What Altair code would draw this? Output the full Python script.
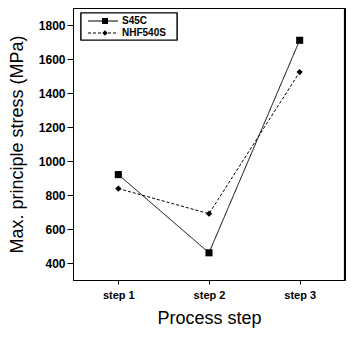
import altair as alt
import pandas as pd

steps = ["step 1", "step 2", "step 3"]
s45c = [920, 460, 1710]
nhf = [838, 690, 1523]
series = ["S45C", "NHF540S"]
y_ticks = [400, 600, 800, 1000, 1200, 1400, 1600, 1800]

rows = []
for s, vals in zip(series, [s45c, nhf]):
    for st, v in zip(steps, vals):
        rows.append({"step": st, "stress": v, "series": s})
df = pd.DataFrame(rows)

W, H = 272, 272
font = "Arial"
x = alt.X("step:N", sort=steps, title="Process step",
          scale=alt.Scale(paddingOuter=0.5),
          axis=alt.Axis(labelAngle=0, labelFont=font, labelFontWeight="bold", labelFontSize=11,
                        labelColor="black", titleFont=font, titleFontSize=18, titleFontWeight="normal",
                        titleColor="black", domainColor="black", tickColor="black", tickSize=4,
                        labelPadding=5, titlePadding=9))
y = alt.Y("stress:Q", title="Max. principle stress (MPa)",
          scale=alt.Scale(domain=[300, 1900], nice=False),
          axis=alt.Axis(values=y_ticks, grid=False, format="d",
                        labelFont=font, labelFontWeight="bold", labelFontSize=12, labelColor="black",
                        titleFont=font, titleFontSize=18, titleFontWeight="normal", titleColor="black",
                        domainColor="black", tickColor="black", tickSize=6, labelPadding=2, titlePadding=12))

color = alt.Color("series:N", sort=series, scale=alt.Scale(domain=series, range=["black", "black"]), legend=None)
dash = alt.StrokeDash("series:N", sort=series, scale=alt.Scale(domain=series, range=[[1, 0], [3, 2]]), legend=None)
shape = alt.Shape("series:N", sort=series, scale=alt.Scale(domain=series, range=["square", "diamond"]), legend=None)
size = alt.Size("series:N", sort=series, scale=alt.Scale(domain=series, range=[50, 40]), legend=None)

lines = alt.Chart(df).mark_line(strokeWidth=1).encode(x=x, y=y, color=color, strokeDash=dash)
points = alt.Chart(df).mark_point(filled=True, opacity=1).encode(x=x, y=y, color=color, shape=shape, size=size)

# frame edges (top and right) around the plot area
one = pd.DataFrame({"a": [0]})
top_edge = alt.Chart(one).mark_rule(color="black", strokeWidth=1.2).encode(
    x=alt.value(0), x2=alt.value(W), y=alt.value(0.5))
right_edge = alt.Chart(one).mark_rule(color="black", strokeWidth=1.2).encode(
    x=alt.value(W - 0.5), y=alt.value(0), y2=alt.value(H))

# manual legend (decoration)
leg_df = pd.DataFrame({"series": series})
box = alt.Chart(leg_df).mark_rect(fill="white", stroke="black", strokeWidth=1.2).encode(
    x=alt.value(8), x2=alt.value(104), y=alt.value(5), y2=alt.value(32))
leg_layers = [box]
row_y = [13, 25]
dashes = [[1, 0], [3, 2]]
shapes = ["square", "diamond"]
sizes = [36, 28]
for i, s in enumerate(series):
    d = pd.DataFrame({"series": [s]})
    leg_layers.append(alt.Chart(d).mark_rule(color="black", strokeWidth=1, strokeDash=dashes[i]).encode(
        x=alt.value(15), x2=alt.value(45), y=alt.value(row_y[i])))
    leg_layers.append(alt.Chart(d).mark_point(filled=True, opacity=1, color="black", shape=shapes[i],
                                              size=sizes[i]).encode(x=alt.value(32), y=alt.value(row_y[i])))
    leg_layers.append(alt.Chart(d).mark_text(align="left", baseline="middle", font=font, fontWeight="bold",
                                             fontSize=10, color="black").encode(
        x=alt.value(49), y=alt.value(row_y[i]), text="series:N"))

chart = alt.layer(lines, points, top_edge, right_edge, *leg_layers).properties(
    width=W, height=H,
    padding={"left": 65, "top": 0, "right": 1, "bottom": 50},
    autosize=alt.AutoSizeParams(type="none"),
    background="white",
).configure_view(stroke="black", strokeWidth=1)

chart.save("out.html", embed_options={"renderer": "svg", "actions": False})
